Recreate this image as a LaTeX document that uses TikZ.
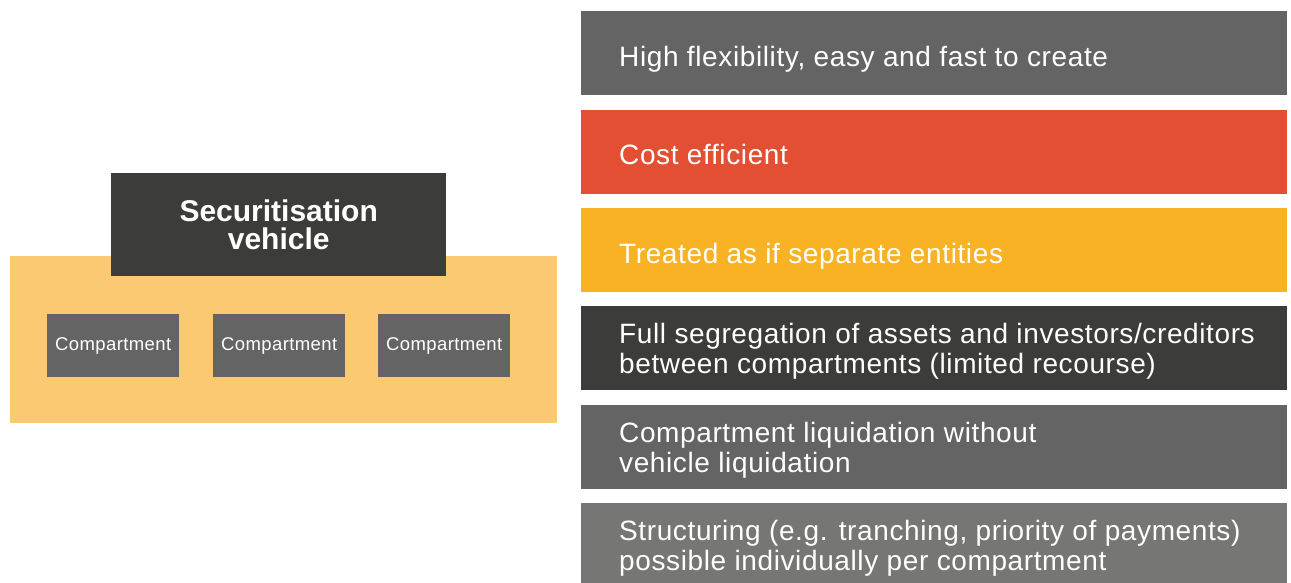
\documentclass[tikz,border=0pt]{standalone}
\usepackage{fontspec}
\setmainfont{Liberation Sans}
\newfontfamily\barfont[LetterSpace=2.2]{Liberation Sans}
\usepackage{tikz}
\usetikzlibrary{positioning}

\definecolor{midgrey}{HTML}{646464}
\definecolor{darkgrey}{HTML}{3C3C3B}
\definecolor{lightgrey}{HTML}{767675}
\definecolor{costred}{HTML}{E34F33}
\definecolor{sunyellow}{HTML}{F9B224}
\definecolor{paleyellow}{HTML}{FBC972}

\begin{document}
\begin{tikzpicture}
	[x=1pt,y=-1pt,node distance=14pt,
	bar/.style={rectangle,anchor=north west,minimum width=706pt,minimum height=84pt,inner sep=0pt},
	note/.style={anchor=west,inner sep=0pt,yshift=-3pt,align=left,text=white,font=\barfont\fontsize{28}{30}\selectfont},
	oneline/.style={note,text depth=0pt},
	comp/.style={rectangle,anchor=north west,fill=midgrey,minimum width=132pt,minimum height=63pt,inner sep=0pt,text=white,font=\barfont\fontsize{18.5}{20}\selectfont}]
	\useasboundingbox (0,0) rectangle (1291,583);
	\clip (0,0) rectangle (1291,583);
	%%%%% VEHICLE
	\node[rectangle,anchor=north west,fill=paleyellow,minimum width=547pt,minimum height=167pt] (frame) at (10,256) {};
	\node[rectangle,anchor=north west,fill=darkgrey,minimum width=335pt,minimum height=103pt,inner sep=0pt,align=center,text=white,font=\fontsize{30}{28}\selectfont\bfseries] (vehicle) at (111,173) {Securitisation\\vehicle};
	\foreach \i/\x in {1/47,2/213,3/378}
	{
	\node[comp] (comp\i) at (\x,314) {Compartment};
	};
	%%%%% FEATURES
	\node[bar,fill=midgrey] (bar1) at (581,11) {};
	\node[bar,fill=costred,below=of bar1.south west,anchor=north west] (bar2) {};
	\node[bar,fill=sunyellow,below=of bar2.south west,anchor=north west] (bar3) {};
	\node[bar,fill=darkgrey,below=of bar3.south west,anchor=north west] (bar4) {};
	\node[bar,fill=midgrey,below=of bar4.south west,anchor=north west] (bar5) {};
	\node[bar,fill=lightgrey,below=of bar5.south west,anchor=north west] (bar6) {};
	%%%%% TEXTS
	\node[oneline] (note1) at ([xshift=38pt]bar1.west) {High flexibility, easy and fast to create};
	\node[oneline] (note2) at ([xshift=38pt]bar2.west) {Cost efficient};
	\node[oneline] (note3) at ([xshift=38pt]bar3.west) {Treated as if separate entities};
	\node[note] (note4) at ([xshift=38pt]bar4.west) {Full segregation of assets and investors/creditors\\between compartments (limited recourse)};
	\node[note] (note5) at ([xshift=38pt]bar5.west) {Compartment liquidation without\\vehicle liquidation};
	\node[note] (note6) at ([xshift=38pt]bar6.west) {Structuring (e.g. tranching, priority of payments)\\possible individually per compartment};
\end{tikzpicture}
\end{document}
